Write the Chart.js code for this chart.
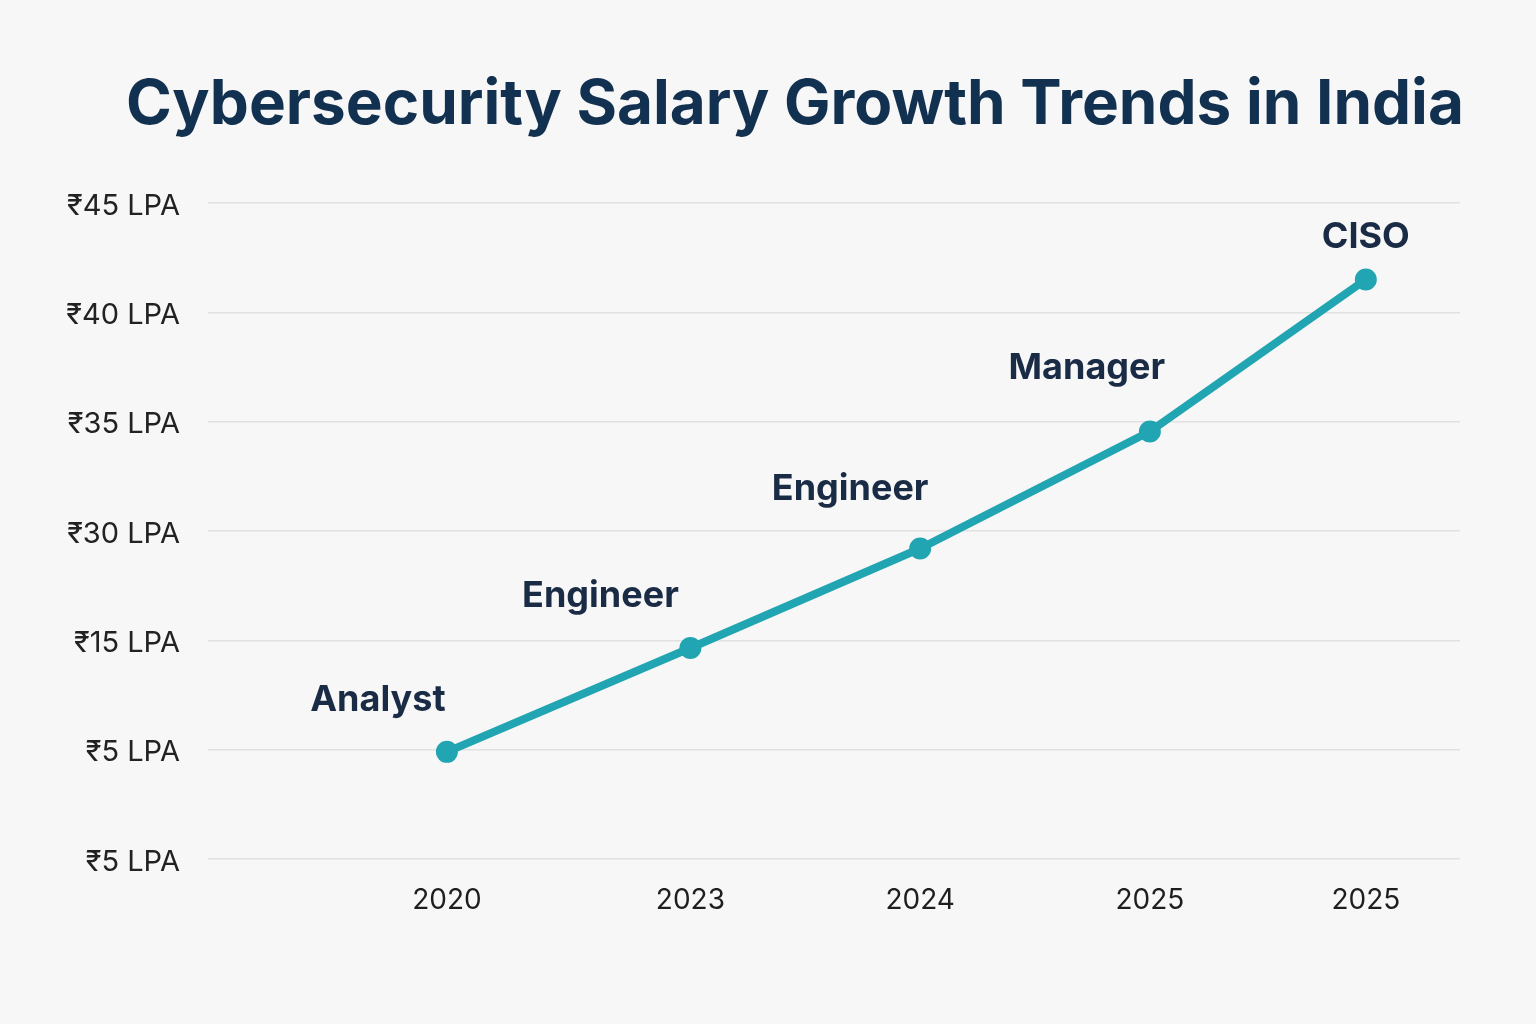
<!DOCTYPE html>
<html>
<head>
<meta charset="utf-8">
<script src="https://cdn.jsdelivr.net/npm/chart.js@4.4.1/dist/chart.umd.min.js"></script>
<style>
    html, body { margin: 0; padding: 0; background: #f7f7f7; }
    #wrap { width: 1536px; height: 1024px; }
</style>
</head>
<body>
<div id="wrap"><canvas id="salaryChart" width="1536" height="1024"></canvas></div>
<script>
// Chart values
const titleText = "Cybersecurity Salary Growth Trends in India";
const roles = ["Analyst", "Engineer", "Engineer", "Manager", "CISO"];
const yearLabels = ["2020", "2023", "2024", "2025", "2025"];
const yearPositions = [1, 2.06, 3.06, 4.06, 5]; // position along the x axis
const salaryLevels = [0.98, 1.93, 2.84, 3.91, 5.30]; // position on the (uneven) salary axis
const yTickLabels = ["₹5 LPA", "₹5 LPA", "₹15 LPA", "₹30 LPA", "₹35 LPA", "₹40 LPA", "₹45 LPA"];

// where each role label sits relative to its point (pixels)
const labelOffsets = [[-69, -52], [-90, -52], [-70, -59], [-63, -63], [0, -42]];

const FONT = "Inter, 'Noto Sans', 'DejaVu Sans', sans-serif";
const TEAL = "#22a5b2";

// title drawn by hand so it can sit off-centre like the original
const titlePlugin = {
    id: "bigTitle",
    afterDraw(chart) {
        const ctx = chart.ctx;
        ctx.save();
        ctx.font = `bold 62px ${FONT}`;
        ctx.fillStyle = "#12304f";
        ctx.textAlign = "center";
        ctx.textBaseline = "middle";
        ctx.fillText(titleText, 795, 105);
        ctx.restore();
    }
};

const roleLabelPlugin = {
    id: "roleLabels",
    afterDatasetsDraw(chart) {
        const ctx = chart.ctx;
        const meta = chart.getDatasetMeta(0);
        ctx.save();
        ctx.font = `bold 36px ${FONT}`;
        ctx.fillStyle = "#1a2b45";
        ctx.textAlign = "center";
        ctx.textBaseline = "middle";
        meta.data.forEach((pt, i) => {
            const off = labelOffsets[i];
            ctx.fillText(roles[i], pt.x + off[0], pt.y + off[1]);
        });
        ctx.restore();
    }
};

const bgPlugin = {
    id: "bg",
    beforeDraw(chart) {
        const ctx = chart.ctx;
        ctx.save();
        ctx.fillStyle = "#f7f7f7";
        ctx.fillRect(0, 0, chart.width, chart.height);
        ctx.restore();
    }
};

const points = yearPositions.map((x, i) => ({ x: x, y: salaryLevels[i] }));

new Chart(document.getElementById("salaryChart"), {
    type: "line",
    data: {
        datasets: [{
            label: "Salary",
            data: points,
            borderColor: TEAL,
            backgroundColor: TEAL,
            borderWidth: 8,
            pointRadius: 7,
            pointHoverRadius: 7,
            tension: 0,
            borderCapStyle: "round",
            borderJoinStyle: "round"
        }]
    },
    options: {
        responsive: false,
        animation: false,
        layout: { padding: { left: 0, right: 76, top: 203, bottom: 0 } },
        plugins: {
            legend: { display: false },
            tooltip: { enabled: false },
            title: { display: false }
        },
        scales: {
            x: {
                type: "linear",
                min: -0.04,
                max: 5.41,
                grid: { display: false },
                border: { display: false },
                afterBuildTicks(scale) {
                    scale.ticks = yearPositions.map(v => ({ value: v }));
                },
                afterFit(scale) { scale.height = 165; },
                ticks: {
                    padding: 17,
                    color: "#1e1e1e",
                    font: { family: FONT, size: 28 },
                    maxRotation: 0,
                    autoSkip: false,
                    callback: (v, i) => yearLabels[i]
                }
            },
            y: {
                min: 0,
                max: 6,
                grid: { color: "#e1e1e1", lineWidth: 1.5, drawTicks: false },
                border: { display: false },
                afterFit(scale) { scale.width = 208; },
                ticks: {
                    stepSize: 1,
                    padding: 28,
                    labelOffset: 3,
                    color: "#222222",
                    font: { family: FONT, size: 29 },
                    callback: v => yTickLabels[v]
                }
            }
        }
    },
    plugins: [bgPlugin, roleLabelPlugin, titlePlugin]
});
</script>
</body>
</html>
